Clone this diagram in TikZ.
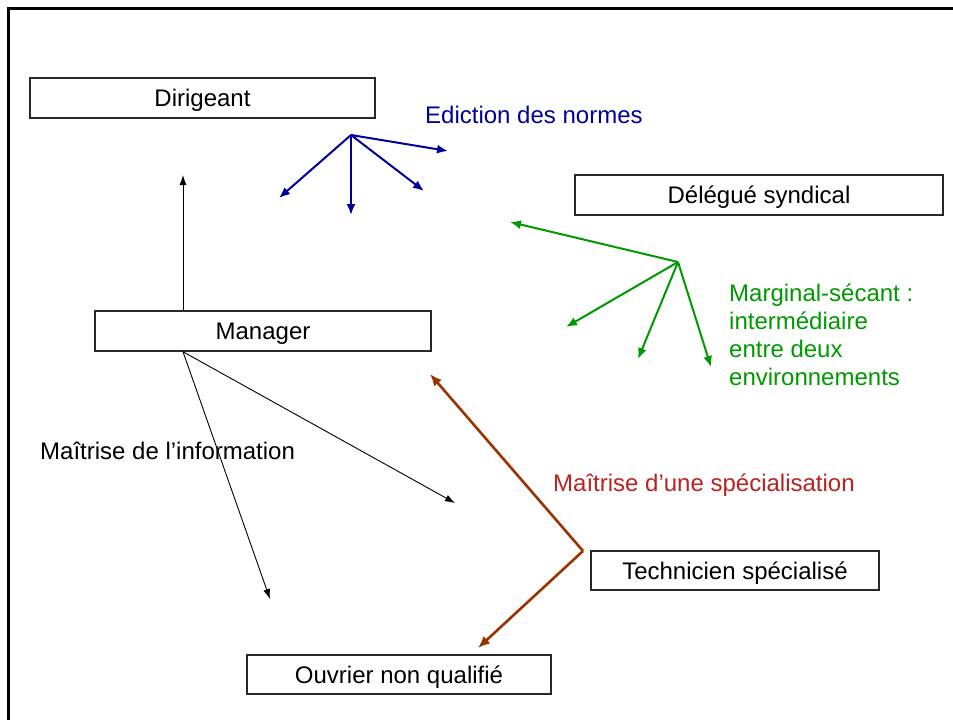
\documentclass[tikz,border=0pt]{standalone}
\usepackage{fontspec}
\setmainfont{Liberation Sans}
\usetikzlibrary{arrows.meta}
\definecolor{nblue}{RGB}{0,0,153}
\definecolor{ngreen}{RGB}{0,153,0}
\definecolor{nred}{RGB}{187,34,34}
\definecolor{nbrown}{RGB}{153,51,0}
\definecolor{boxline}{RGB}{40,40,40}
\begin{document}
\begin{tikzpicture}[x=1pt,y=-1pt,
  every node/.style={font=\fontsize{24}{28}\selectfont},
  rolebox/.style={draw=boxline,line width=1.5pt,rectangle,inner sep=0pt,text height=17pt,text depth=0pt},
  lbl/.style={inner sep=0pt,anchor=base west,align=left},
  blk/.style={draw=black,line width=0.9pt,-{Latex[length=10pt,width=7pt]}},
  bluea/.style={draw=nblue,line width=2pt,-{Latex[length=11pt,width=9pt]}},
  greena/.style={draw=ngreen,line width=2pt,-{Latex[length=11pt,width=9pt]}},
  browna/.style={draw=nbrown,line width=2.6pt,-{Latex[length=12pt,width=10pt]}}]
\useasboundingbox (0,0) rectangle (953,720);
\fill[white] (0,0) rectangle (953,720);
\draw[line width=3pt] (8,720) -- (8,8) -- (953,8);

% boxes
\node[rolebox,minimum width=345pt,minimum height=40pt] (dir) at (202.5,98) {Dirigeant};
\node[rolebox,minimum width=368pt,minimum height=40pt] (del) at (759,195) {Délégué syndical};
\node[rolebox,minimum width=336pt,minimum height=40pt] (mgr) at (263,331) {Manager};
\node[rolebox,minimum width=288pt,minimum height=39pt] (tec) at (735,570.5) {Technicien spécialisé};
\node[rolebox,minimum width=304pt,minimum height=39pt] (ouv) at (399,674.5) {Ouvrier non qualifié};

% labels
\node[lbl,text=nblue] (edi) at (425,123.5) {Ediction des normes};
\node[lbl,text=ngreen] (mar) at (729,385.5) {Marginal-sécant :\\intermédiaire\\entre deux\\environnements};
\node[lbl] (info) at (40,459.5) {Maîtrise de l’information};
\node[lbl,text=nred] (spe) at (553,491.5) {Maîtrise d’une spécialisation};

% black arrows from Manager
\coordinate (mtop) at (mgr.north -| 183,0);
\coordinate (mbot) at (mgr.south -| 183,0);
\coordinate (t1) at (183,175);
\coordinate (t2) at (270,599);
\coordinate (t3) at (455,503);
\draw[blk] (mtop) -- (t1);
\draw[blk] (mbot) -- (t2);
\draw[blk] (mbot) -- (t3);

% blue fan
\coordinate (bo) at (351,135);
\coordinate (b1) at (279,198);
\coordinate (b2) at (351,215);
\coordinate (b3) at (424,191);
\coordinate (b4) at (448,151);
\draw[bluea] (bo) -- (b1);
\draw[bluea] (bo) -- (b2);
\draw[bluea] (bo) -- (b3);
\draw[bluea] (bo) -- (b4);

% green fan
\coordinate (go) at (678,262);
\coordinate (g1) at (510,222);
\coordinate (g2) at (566,327);
\coordinate (g3) at (638,359);
\coordinate (g4) at (711,367);
\draw[greena] (go) -- (g1);
\draw[greena] (go) -- (g2);
\draw[greena] (go) -- (g3);
\draw[greena] (go) -- (g4);

% brown
\coordinate (ro) at (583,551);
\coordinate (r1) at (430,374);
\coordinate (r2) at (478,648);
\draw[browna] (ro) -- (r1);
\draw[browna] (ro) -- (r2);
\end{tikzpicture}
\end{document}
